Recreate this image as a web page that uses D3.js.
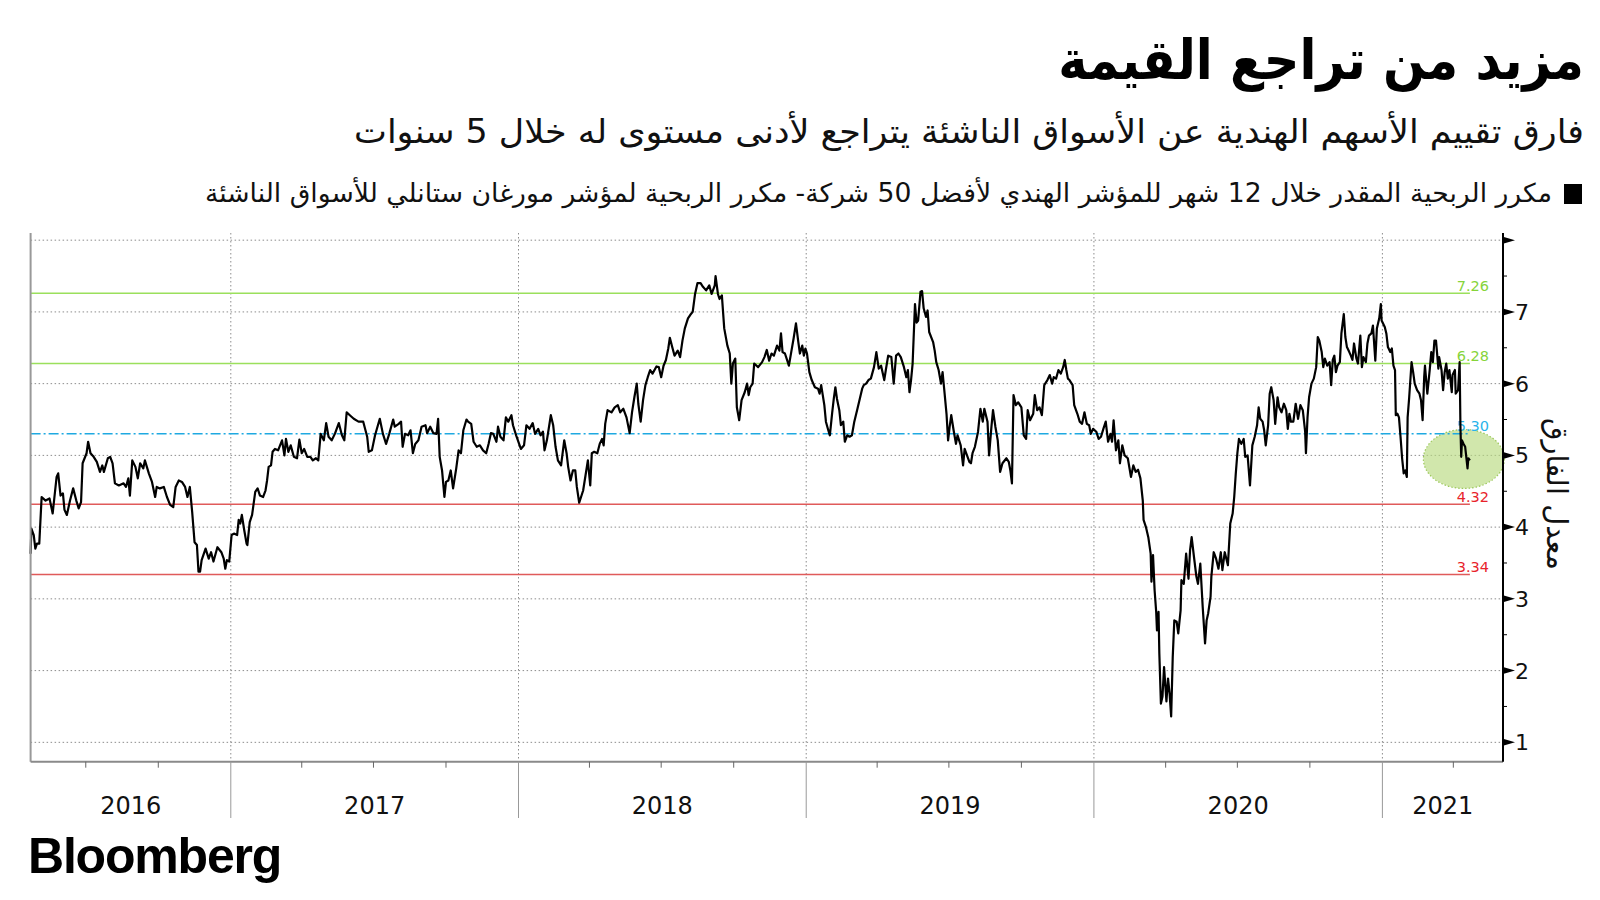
<!DOCTYPE html>
<html>
<head>
<meta charset="utf-8">
<title>مزيد من تراجع القيمة</title>
<style>
body { margin: 0; background: #fff; }
svg text { font-family: "DejaVu Sans", sans-serif; }
.ar { direction: rtl; }
.grid line { stroke: #8c8c8c; stroke-width: 1; stroke-dasharray: 1.5,2.5; }
.price { fill: none; stroke: #000; stroke-width: 2.2; stroke-linejoin: round; }
.lvl-label { font-size: 14.5px; }
.yr { font-size: 24px; fill: #111; }
.ynum { font-size: 22px; fill: #111; }
</style>
</head>
<body>
<svg width="1600" height="900"></svg>
<script src="https://cdnjs.cloudflare.com/ajax/libs/d3/7.8.5/d3.min.js"></script>
<script>
// texts
var title = "مزيد من تراجع القيمة";
var subtitle = "فارق تقييم الأسهم الهندية عن الأسواق الناشئة يتراجع لأدنى مستوى له خلال 5 سنوات";
var legendText = "مكرر الربحية المقدر خلال 12 شهر للمؤشر الهندي لأفضل 50 شركة- مكرر الربحية لمؤشر مورغان ستانلي للأسواق الناشئة";
var yTitle = "معدل الفارق";

// x axis years, y axis ticks
var years = ["2016", "2017", "2018", "2019", "2020", "2021"];
var yTicks = [1, 2, 3, 4, 5, 6, 7, 8];
var yLabels = ["1", "2", "3", "4", "5", "6", "7", ""];

// reference levels (mean +/- 1 and 2 sd)
var levels = [7.26, 6.28, 5.30, 4.32, 3.34];
var levelLabels = ["7.26", "6.28", "5.30", "4.32", "3.34"];

// the spread
var dates = [
"2016-04-22","2016-04-23","2016-04-26","2016-04-28","2016-04-30","2016-05-03","2016-05-06","2016-05-11","2016-05-16","2016-05-20",
"2016-05-25","2016-05-27","2016-05-30","2016-06-02","2016-06-04","2016-06-07","2016-06-11","2016-06-15","2016-06-19","2016-06-22",
"2016-06-25","2016-06-27","2016-07-02","2016-07-04","2016-07-07","2016-07-11","2016-07-15","2016-07-19","2016-07-22","2016-07-24",
"2016-07-29","2016-08-01","2016-08-04","2016-08-07","2016-08-12","2016-08-18","2016-08-21","2016-08-24","2016-08-26","2016-08-29",
"2016-09-02","2016-09-05","2016-09-08","2016-09-12","2016-09-14","2016-09-19","2016-09-23","2016-09-27","2016-09-29","2016-10-03",
"2016-10-08","2016-10-12","2016-10-16","2016-10-20","2016-10-23","2016-10-27","2016-10-31","2016-11-04","2016-11-07","2016-11-10",
"2016-11-13","2016-11-16","2016-11-19","2016-11-21","2016-11-23","2016-11-25","2016-11-30","2016-12-04","2016-12-07","2016-12-10",
"2016-12-15","2016-12-20","2016-12-23","2016-12-25","2016-12-27","2016-12-30",
"2017-01-02","2017-01-05","2017-01-09","2017-01-11","2017-01-13","2017-01-15","2017-01-18","2017-01-21","2017-01-22","2017-01-25",
"2017-01-28","2017-01-30","2017-02-01","2017-02-04","2017-02-07","2017-02-11","2017-02-14","2017-02-16","2017-02-18","2017-02-21",
"2017-02-23","2017-02-26","2017-03-02","2017-03-07","2017-03-10","2017-03-12","2017-03-15","2017-03-18","2017-03-22","2017-03-26",
"2017-03-29","2017-04-01","2017-04-04","2017-04-08","2017-04-12","2017-04-15","2017-04-19","2017-04-22","2017-04-25","2017-04-29",
"2017-05-02","2017-05-05","2017-05-09","2017-05-13","2017-05-18","2017-05-22","2017-05-25","2017-05-28","2017-06-01","2017-06-06",
"2017-06-12","2017-06-18","2017-06-23","2017-06-25","2017-06-29","2017-07-03","2017-07-09","2017-07-13","2017-07-17","2017-07-21",
"2017-07-26","2017-07-28","2017-08-02","2017-08-05","2017-08-07","2017-08-10","2017-08-14","2017-08-17","2017-08-20","2017-08-23",
"2017-08-27","2017-08-31","2017-09-05","2017-09-07","2017-09-11","2017-09-15","2017-09-19","2017-09-21","2017-09-23","2017-09-26",
"2017-09-29","2017-10-01","2017-10-04","2017-10-07","2017-10-10","2017-10-14","2017-10-17","2017-10-20","2017-10-23","2017-10-27",
"2017-10-29","2017-11-02","2017-11-05","2017-11-09","2017-11-13","2017-11-17","2017-11-21","2017-11-24","2017-11-27","2017-11-30",
"2017-12-04","2017-12-06","2017-12-09","2017-12-13","2017-12-16","2017-12-19","2017-12-23","2017-12-25","2017-12-29",
"2018-01-04","2018-01-08","2018-01-11","2018-01-15","2018-01-19","2018-01-22","2018-01-26","2018-01-29","2018-02-01","2018-02-03",
"2018-02-06","2018-02-11","2018-02-14","2018-02-17","2018-02-20","2018-02-24","2018-02-28","2018-03-03","2018-03-05","2018-03-08",
"2018-03-11","2018-03-14","2018-03-16","2018-03-19","2018-03-24","2018-03-27","2018-03-30","2018-04-02","2018-04-04","2018-04-07",
"2018-04-11","2018-04-14","2018-04-17","2018-04-19","2018-04-21","2018-04-24","2018-04-29","2018-05-03","2018-05-07","2018-05-10",
"2018-05-14","2018-05-18","2018-05-22","2018-05-25","2018-05-28","2018-05-31","2018-06-02","2018-06-05","2018-06-08","2018-06-11",
"2018-06-14","2018-06-17","2018-06-20","2018-06-25","2018-06-28","2018-07-01","2018-07-04","2018-07-07","2018-07-10","2018-07-12",
"2018-07-15","2018-07-18","2018-07-22","2018-07-25","2018-07-28","2018-07-31","2018-08-04","2018-08-07","2018-08-10","2018-08-13",
"2018-08-16","2018-08-20","2018-08-23","2018-08-27","2018-08-31","2018-09-03","2018-09-07","2018-09-08","2018-09-11","2018-09-13",
"2018-09-16","2018-09-19","2018-09-23","2018-09-26","2018-09-28","2018-09-30","2018-10-03","2018-10-05","2018-10-08","2018-10-11",
"2018-10-15","2018-10-18","2018-10-20","2018-10-22","2018-10-25","2018-10-27","2018-11-01","2018-11-06","2018-11-09","2018-11-12",
"2018-11-15","2018-11-18","2018-11-21","2018-11-25","2018-11-28","2018-11-30","2018-12-02","2018-12-05","2018-12-08","2018-12-10",
"2018-12-13","2018-12-16","2018-12-19","2018-12-22","2018-12-24","2018-12-27","2018-12-29","2018-12-31",
"2019-01-02","2019-01-05","2019-01-08","2019-01-12","2019-01-16","2019-01-18","2019-01-20","2019-01-22","2019-01-24","2019-01-26",
"2019-01-29","2019-01-31","2019-02-03","2019-02-05","2019-02-07","2019-02-09","2019-02-12","2019-02-14","2019-02-17","2019-02-19",
"2019-02-22","2019-02-25","2019-02-28","2019-03-03","2019-03-07","2019-03-10","2019-03-13","2019-03-15","2019-03-18","2019-03-21",
"2019-03-24","2019-03-28","2019-03-31","2019-04-03","2019-04-06","2019-04-10","2019-04-12","2019-04-15","2019-04-19","2019-04-22",
"2019-04-25","2019-04-28","2019-05-01","2019-05-05","2019-05-08","2019-05-10","2019-05-12","2019-05-14","2019-05-16","2019-05-19",
"2019-05-21","2019-05-23","2019-05-26","2019-05-28","2019-05-30","2019-06-02","2019-06-04","2019-06-06","2019-06-11","2019-06-13",
"2019-06-15","2019-06-18","2019-06-21","2019-06-23","2019-06-25","2019-06-28","2019-06-30","2019-07-02","2019-07-04","2019-07-07",
"2019-07-10","2019-07-12","2019-07-16","2019-07-19","2019-07-21","2019-07-24","2019-07-27","2019-07-29","2019-07-31","2019-08-03",
"2019-08-07","2019-08-10","2019-08-13","2019-08-15","2019-08-19","2019-08-21","2019-08-24","2019-08-26","2019-08-29","2019-09-01",
"2019-09-04","2019-09-07","2019-09-12","2019-09-15","2019-09-17","2019-09-19","2019-09-21","2019-09-24","2019-09-27","2019-10-01",
"2019-10-04","2019-10-07","2019-10-09","2019-10-12","2019-10-16","2019-10-18","2019-10-21","2019-10-24","2019-10-27","2019-10-30",
"2019-11-03","2019-11-06","2019-11-09","2019-11-11","2019-11-14","2019-11-17","2019-11-20","2019-11-23","2019-11-25","2019-11-27",
"2019-11-29","2019-12-01","2019-12-05","2019-12-07","2019-12-11","2019-12-14","2019-12-17","2019-12-20","2019-12-23","2019-12-26",
"2019-12-28","2019-12-31",
"2020-01-04","2020-01-07","2020-01-10","2020-01-13","2020-01-16","2020-01-19","2020-01-22","2020-01-24","2020-01-26","2020-01-29",
"2020-02-01","2020-02-03","2020-02-06","2020-02-09","2020-02-13","2020-02-17","2020-02-20","2020-02-23","2020-02-26","2020-02-29",
"2020-03-03","2020-03-04","2020-03-07","2020-03-10","2020-03-13","2020-03-14","2020-03-16","2020-03-18","2020-03-20","2020-03-21",
"2020-03-23","2020-03-24","2020-03-26","2020-03-28","2020-03-30","2020-04-02","2020-04-04","2020-04-06","2020-04-08","2020-04-10",
"2020-04-12","2020-04-15","2020-04-17","2020-04-20","2020-04-21","2020-04-24","2020-04-27","2020-04-30","2020-05-02","2020-05-04",
"2020-05-07","2020-05-10","2020-05-12","2020-05-15","2020-05-18","2020-05-21","2020-05-23","2020-05-25","2020-05-28","2020-05-29",
"2020-06-01","2020-06-04","2020-06-07","2020-06-10","2020-06-12","2020-06-15","2020-06-19","2020-06-22","2020-06-25","2020-06-27",
"2020-06-29","2020-07-01","2020-07-03","2020-07-06","2020-07-09","2020-07-11","2020-07-14","2020-07-17","2020-07-20","2020-07-23",
"2020-07-26","2020-07-28","2020-07-30","2020-08-02","2020-08-04","2020-08-06","2020-08-09","2020-08-11","2020-08-13","2020-08-16",
"2020-08-18","2020-08-21","2020-08-23","2020-08-26","2020-08-29","2020-09-01","2020-09-03","2020-09-05","2020-09-07","2020-09-10",
"2020-09-13","2020-09-16","2020-09-19","2020-09-22","2020-09-25","2020-09-26","2020-09-28","2020-09-30","2020-10-03","2020-10-06",
"2020-10-09","2020-10-11","2020-10-13","2020-10-16","2020-10-18","2020-10-20","2020-10-23","2020-10-26","2020-10-28","2020-10-30",
"2020-11-01","2020-11-03","2020-11-05","2020-11-08","2020-11-10","2020-11-13","2020-11-15","2020-11-17","2020-11-20","2020-11-22",
"2020-11-24","2020-11-26","2020-11-29","2020-12-01","2020-12-04","2020-12-06","2020-12-08","2020-12-11","2020-12-13","2020-12-15",
"2020-12-18","2020-12-20","2020-12-23","2020-12-25","2020-12-28","2020-12-30","2020-12-31",
"2021-01-04","2021-01-06","2021-01-08","2021-01-11","2021-01-13","2021-01-15","2021-01-17","2021-01-18","2021-01-20","2021-01-22",
"2021-01-24","2021-01-26","2021-01-28","2021-01-30","2021-02-01","2021-02-02","2021-02-04","2021-02-07","2021-02-09","2021-02-11",
"2021-02-14","2021-02-17","2021-02-19","2021-02-21","2021-02-23","2021-02-24","2021-02-27","2021-03-02","2021-03-04","2021-03-06",
"2021-03-08","2021-03-10","2021-03-13","2021-03-14","2021-03-17","2021-03-19","2021-03-21","2021-03-23","2021-03-25","2021-03-27",
"2021-03-30","2021-03-31","2021-04-03","2021-04-04","2021-04-07","2021-04-09","2021-04-10","2021-04-11","2021-04-12","2021-04-14",
"2021-04-16","2021-04-19","2021-04-20","2021-04-22"
];
var spread = [
3.63,3.98,3.89,3.70,3.77,3.77,4.42,4.37,4.40,4.19,
4.70,4.75,4.44,4.47,4.24,4.17,4.37,4.54,4.37,4.26,
4.35,4.89,5.03,5.19,5.03,4.98,4.91,4.77,4.86,4.77,
4.96,4.98,4.89,4.61,4.58,4.61,4.56,4.68,4.44,4.93,
4.84,4.68,4.89,4.82,4.93,4.75,4.63,4.42,4.56,4.54,
4.56,4.42,4.31,4.28,4.56,4.65,4.63,4.56,4.42,4.56,
4.21,3.79,3.75,3.38,3.38,3.54,3.70,3.56,3.65,3.52,
3.72,3.65,3.56,3.42,3.54,3.52,
3.89,3.91,3.89,4.10,4.05,4.17,3.96,3.77,3.75,4.07,
4.17,4.33,4.49,4.54,4.44,4.42,4.51,4.65,4.84,4.86,
5.05,5.09,5.07,5.21,5.00,5.23,5.05,5.14,4.98,4.96,
5.22,5.03,5.09,4.98,4.98,4.93,4.96,4.93,5.30,5.21,
5.45,5.26,5.21,5.30,5.45,5.28,5.21,5.60,5.56,5.51,
5.47,5.47,5.26,5.05,5.07,5.28,5.51,5.30,5.16,5.30,
5.50,5.40,5.44,5.47,5.12,5.30,5.28,5.35,5.03,5.16,
5.21,5.40,5.42,5.31,5.40,5.31,5.30,5.51,4.98,4.79,
4.42,4.63,4.65,4.79,4.54,4.82,5.07,5.03,5.35,5.50,
5.47,5.44,5.19,5.12,5.14,5.07,5.03,5.16,5.31,5.30,
5.19,5.40,5.26,5.21,5.53,5.47,5.56,5.42,5.28,
5.09,5.14,5.42,5.37,5.45,5.30,5.37,5.28,5.33,5.07,
5.21,5.56,5.42,5.12,4.93,4.86,5.21,5.03,4.84,4.65,
4.79,4.79,4.56,4.34,4.51,4.72,4.93,4.58,5.03,5.05,
5.03,5.16,5.23,5.14,5.44,5.63,5.60,5.67,5.70,5.60,
5.65,5.53,5.31,5.60,5.81,6.00,5.72,5.47,5.77,5.98,
6.09,6.19,6.14,6.24,6.23,6.09,6.25,6.33,6.49,6.64,
6.51,6.39,6.46,6.37,6.60,6.77,6.91,6.96,7.00,7.25,
7.40,7.40,7.35,7.30,7.37,7.25,7.37,7.50,7.25,7.18,
7.23,6.77,6.53,6.42,6.00,6.28,6.35,5.67,5.49,5.77,
5.88,6.00,5.84,5.95,6.00,6.28,6.23,6.30,6.37,6.47,
6.32,6.42,6.39,6.53,6.46,6.70,6.44,6.42,6.32,6.25,
6.44,6.63,6.84,6.58,6.42,6.53,6.39,6.49,
6.42,6.16,6.05,5.95,5.93,5.86,5.98,5.84,5.70,5.47,
5.35,5.28,5.60,5.79,5.95,5.79,5.63,5.42,5.47,5.19,
5.28,5.26,5.28,5.47,5.65,5.79,5.93,5.98,6.00,6.05,
6.07,6.23,6.44,6.21,6.25,6.05,6.19,6.39,6.37,6.00,
6.39,6.42,6.37,6.23,6.09,6.19,5.88,6.05,6.28,7.11,
6.85,6.88,7.28,7.29,7.05,6.93,7.02,6.72,6.58,6.46,
6.30,6.19,6.00,6.16,5.93,5.58,5.21,5.40,5.56,5.35,
5.16,5.28,5.14,4.86,5.09,5.00,4.91,4.89,5.03,5.12,
5.33,5.65,5.47,5.65,5.47,5.00,5.40,5.63,5.40,5.21,
4.77,4.89,4.96,4.91,4.79,4.61,5.84,5.70,5.74,5.67,
5.28,5.23,5.63,5.49,5.58,5.84,5.63,5.67,5.56,5.98,
6.05,6.12,6.00,6.09,6.07,6.19,6.14,6.23,6.33,6.19,
6.07,6.05,5.98,5.70,5.58,5.47,5.44,5.60,5.44,5.42,
5.30,5.37,
5.33,5.23,5.26,5.37,5.47,5.19,5.30,5.19,5.49,5.07,
5.21,4.89,5.14,5.00,4.96,4.70,4.86,4.77,4.80,4.68,
4.37,4.10,4.00,3.86,3.63,3.24,3.61,3.12,2.82,2.56,
2.82,2.24,1.54,1.64,2.05,1.57,1.89,1.68,1.36,2.19,
2.70,2.68,2.52,2.84,3.26,3.21,3.63,3.28,3.68,3.86,
3.58,3.31,3.21,3.49,2.89,2.38,2.70,2.80,3.03,3.31,
3.65,3.56,3.42,3.65,3.40,3.65,3.47,4.05,4.19,4.42,
4.75,5.03,5.23,5.16,5.23,4.98,5.00,4.58,5.14,5.26,
5.42,5.67,5.51,5.47,5.35,5.14,5.42,5.86,5.95,5.77,
5.44,5.81,5.67,5.60,5.72,5.63,5.37,5.58,5.47,5.47,
5.72,5.51,5.70,5.63,5.33,5.03,5.53,5.81,6.00,6.07,
6.23,6.65,6.60,6.44,6.23,6.35,6.25,6.30,5.98,6.33,
6.39,6.16,6.25,6.30,6.70,6.97,6.65,6.51,6.44,6.39,
6.33,6.56,6.35,6.28,6.67,6.23,6.37,6.30,6.56,6.67,
6.70,6.81,6.32,6.77,6.91,7.11,6.88,
6.79,6.70,6.51,6.44,6.49,6.25,6.19,5.56,5.58,5.53,
5.26,4.96,4.75,4.79,4.70,5.53,5.81,6.30,6.16,6.00,
5.91,5.86,5.77,5.49,6.09,6.25,5.86,6.19,6.44,6.30,
6.60,6.60,6.21,6.37,6.19,5.91,6.16,6.28,6.07,6.19,
5.88,6.12,6.19,5.86,5.91,6.30,5.40,4.98,5.21,5.16,
5.12,4.82,4.96,4.93
];

var svg = d3.select("svg");
var parseDate = d3.timeParse("%Y-%m-%d");
var data = dates.map(function(d, i) { return {date: parseDate(d), value: spread[i]}; });
var lastDate = data[data.length - 1].date;

var x = d3.scaleTime()
    .domain([parseDate("2016-04-22"), parseDate("2021-06-03")])
    .range([30.6, 1503]);
var y = d3.scaleLinear()
    .domain([0.73, 8.1])
    .range([761.7, 233]);

var x0 = x.range()[0], x1 = x.range()[1];
var yTop = y.range()[1], yBot = y.range()[0];

// HEADER (Arabic, right aligned at 1584)
// title: big bold, squeezed a little so it spans the same width as the original
svg.append("text").attr("class", "ar")
    .attr("transform", "translate(1584,79) scale(0.9,1)")
    .attr("text-anchor", "start")
    .style("font-size", "55px").style("font-weight", "bold")
    .text(title);
svg.append("text").attr("class", "ar")
    .attr("x", 1584).attr("y", 143)
    .attr("text-anchor", "start")
    .attr("textLength", 1230).attr("lengthAdjust", "spacingAndGlyphs")
    .style("font-size", "33px").style("fill", "#111")
    .text(subtitle);
svg.append("rect")
    .attr("x", 1564).attr("y", 184).attr("width", 18).attr("height", 20)
    .attr("fill", "#000");
svg.append("text").attr("class", "ar")
    .attr("x", 1552).attr("y", 202)
    .attr("text-anchor", "start")
    .attr("textLength", 1347).attr("lengthAdjust", "spacingAndGlyphs")
    .style("font-size", "26px").style("fill", "#111")
    .text(legendText);

// GRID
var grid = svg.append("g").attr("class", "grid");
grid.selectAll(".h").data(yTicks).enter().append("line")
    .attr("x1", x0).attr("x2", x1)
    .attr("y1", function(d) { return y(d); })
    .attr("y2", function(d) { return y(d); });

var yearStarts = years.slice(1).map(function(s) { return parseDate(s + "-01-01"); });
grid.selectAll(".v").data(yearStarts).enter().append("line")
    .attr("x1", function(d) { return x(d); }).attr("x2", function(d) { return x(d); })
    .attr("y1", yTop).attr("y2", yBot);

// ellipse marking the latest reading
svg.append("ellipse")
    .attr("cx", x(lastDate) - 6).attr("cy", y(4.95))
    .attr("rx", 40.5).attr("ry", 29.5)
    .attr("fill", "#b9da7f").attr("fill-opacity", 0.65)
    .attr("stroke", "#9cc75a").attr("stroke-width", 1.2)
    .attr("stroke-dasharray", "1.5,2");

// LEVEL LINES
var levelColor = ["#9be05c", "#9be05c", "#1fa9e1", "#e05a5a", "#e05a5a"];
var labelColor = ["#86d43a", "#86d43a", "#2ab3ea", "#e8232b", "#e8232b"];
svg.append("g").selectAll("line").data(levels).enter().append("line")
    .attr("x1", x0).attr("x2", x(lastDate))
    .attr("y1", function(d) { return y(d); })
    .attr("y2", function(d) { return y(d); })
    .attr("stroke", function(d, i) { return levelColor[i]; })
    .attr("stroke-width", 1.5)
    .attr("stroke-dasharray", function(d, i) { return i == 2 ? "10,3,2,3" : null; });
svg.append("g").selectAll("text").data(levels).enter().append("text")
    .attr("class", "lvl-label")
    .attr("x", 1489)
    .attr("y", function(d) { return y(d) - 2.5; })
    .attr("text-anchor", "end")
    .attr("fill", function(d, i) { return labelColor[i]; })
    .text(function(d, i) { return levelLabels[i]; });

// LINE
var line = d3.line()
    .x(function(d) { return x(d.date); })
    .y(function(d) { return y(d.value); });
svg.append("path").datum(data)
    .attr("class", "price")
    .attr("d", line);

// AXES FRAME
svg.append("line").attr("x1", x0).attr("x2", x0).attr("y1", yTop).attr("y2", yBot)
    .attr("stroke", "#999").attr("stroke-width", 2);
svg.append("line").attr("x1", x0).attr("x2", x1).attr("y1", yBot).attr("y2", yBot)
    .attr("stroke", "#8a8a8a").attr("stroke-width", 2);

// quarter ticks
var quarters = d3.timeMonth.every(3).range(x.domain()[0], x.domain()[1])
    .filter(function(d) { return d.getMonth() != 0; });
svg.append("g").selectAll("line").data(quarters).enter().append("line")
    .attr("x1", function(d) { return x(d); }).attr("x2", function(d) { return x(d); })
    .attr("y1", yBot).attr("y2", yBot + 6)
    .attr("stroke", "#666").attr("stroke-width", 1);
// year separators under the axis
svg.append("g").selectAll("line").data(yearStarts).enter().append("line")
    .attr("x1", function(d) { return x(d); }).attr("x2", function(d) { return x(d); })
    .attr("y1", yBot).attr("y2", 818)
    .attr("stroke", "#999").attr("stroke-width", 1);
// year labels centred in each visible year
svg.append("g").selectAll("text").data(years).enter().append("text")
    .attr("class", "yr")
    .attr("text-anchor", "middle")
    .attr("x", function(d) {
      var a = Math.max(x(parseDate(d + "-01-01")), x0);
      var b = Math.min(x(parseDate((+d + 1) + "-01-01")), x1);
      return (a + b) / 2;
    })
    .attr("y", 814)
    .text(function(d) { return d; });

// right axis
var yAxis = svg.append("g");
yAxis.append("line").attr("x1", x1).attr("x2", x1).attr("y1", yTop).attr("y2", yBot)
    .attr("stroke", "#000").attr("stroke-width", 2);
var halves = yTicks.slice(0, -1).map(function(d) { return d + 0.5; });
yAxis.selectAll(".minor").data(halves).enter().append("line")
    .attr("x1", x1).attr("x2", x1 + 4)
    .attr("y1", function(d) { return y(d); }).attr("y2", function(d) { return y(d); })
    .attr("stroke", "#000").attr("stroke-width", 1);
yAxis.selectAll(".tri").data(yTicks).enter().append("path")
    .attr("d", function(d) { var yy = y(d); return "M" + x1 + "," + (yy - 3.5) + "L" + (x1 + 12) + "," + yy + "L" + x1 + "," + (yy + 3.5) + "Z"; })
    .attr("fill", "#000");
yAxis.selectAll("text").data(yTicks).enter().append("text")
    .attr("class", "ynum")
    .attr("x", x1 + 12)
    .attr("y", function(d) { return y(d); })
    .attr("dy", "0.36em")
    .text(function(d, i) { return yLabels[i]; });

// axis title
svg.append("text").attr("class", "ar")
    .attr("transform", "translate(1547," + 494 + ") rotate(90)")
    .attr("text-anchor", "middle")
    .style("font-size", "29px").style("fill", "#111")
    .text(yTitle);

// logo
svg.append("text")
    .attr("x", 28).attr("y", 873)
    .style("font-family", "'Liberation Sans', Arial, sans-serif")
    .style("font-size", "50px").style("font-weight", "bold")
    .style("letter-spacing", "-1.2px")
    .text("Bloomberg");
</script>
</body>
</html>
